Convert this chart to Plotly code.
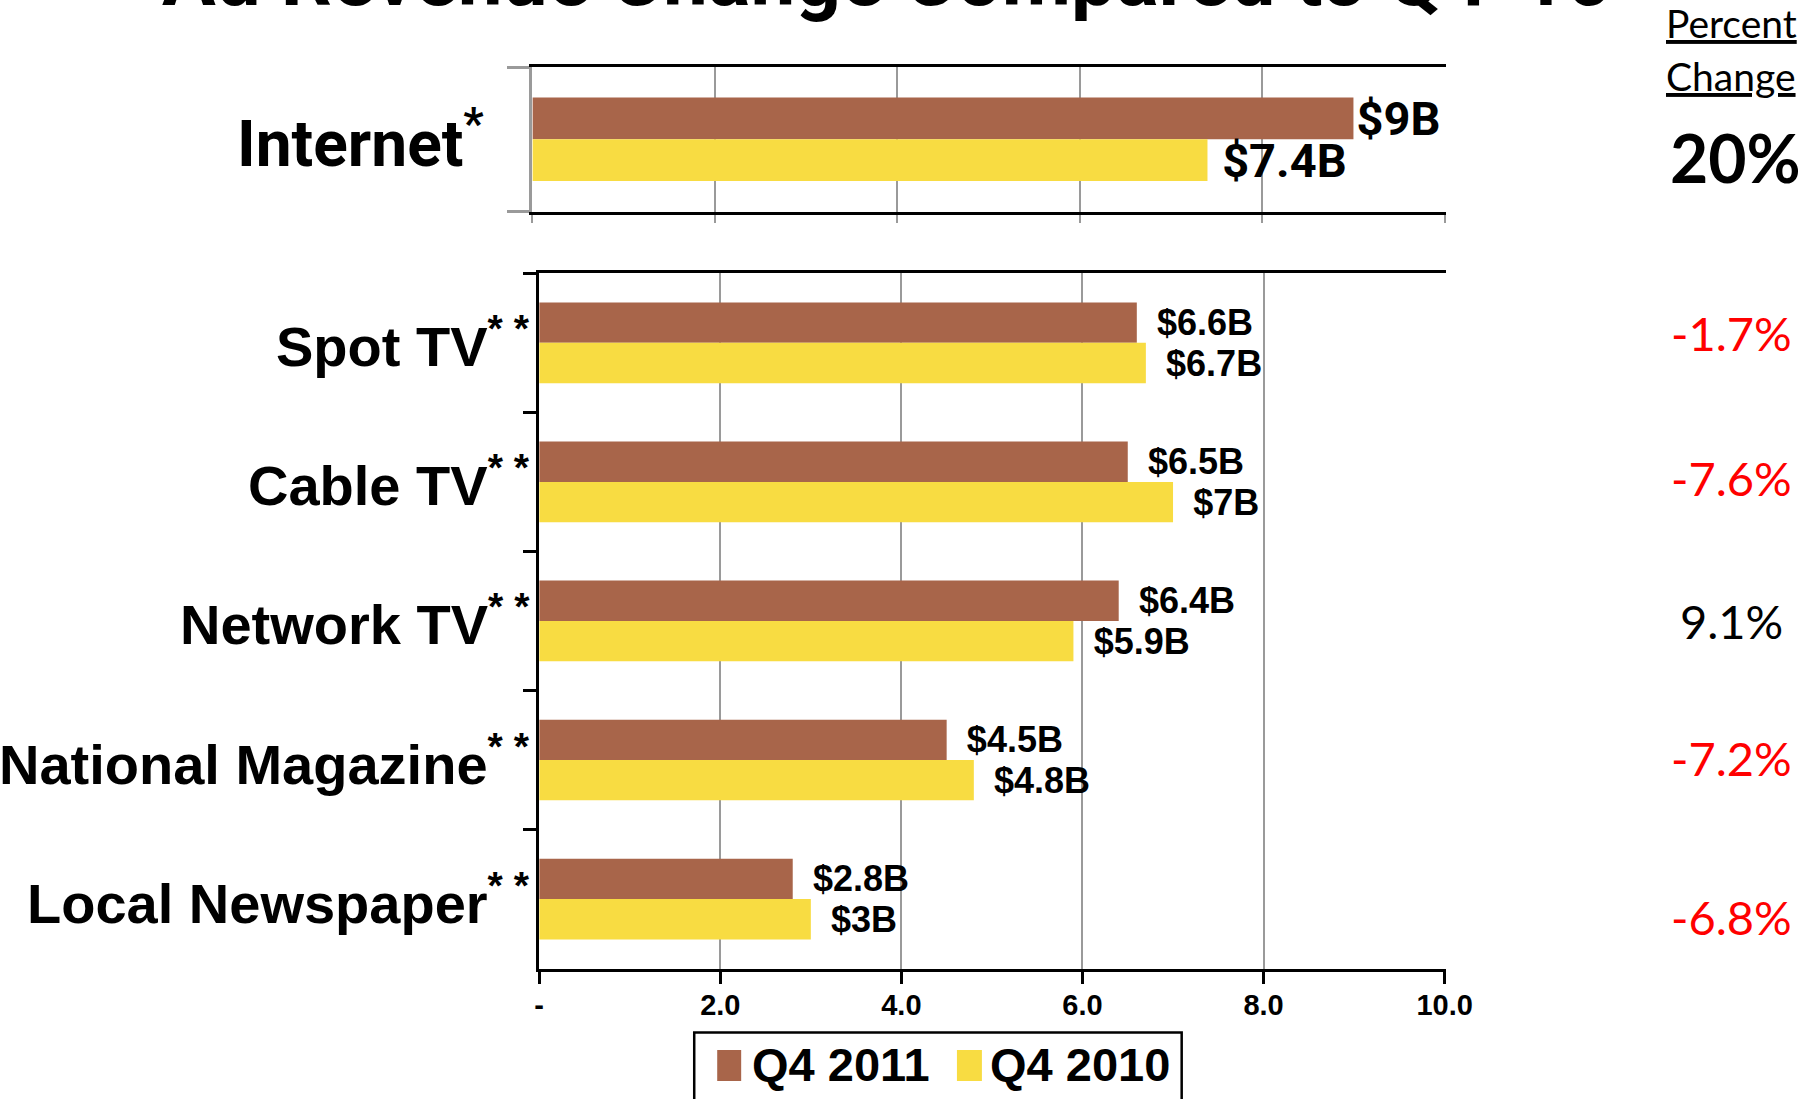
import plotly.graph_objects as go

# ---------------- data ----------------
categories_top = ["Internet"]
q4_2011_top = [9.0]
q4_2010_top = [7.4]

categories = ["Spot TV", "Cable TV", "Network TV", "National Magazine", "Local Newspaper"]
q4_2011 = [6.6, 6.5, 6.4, 4.5, 2.8]
q4_2010 = [6.7, 7.0, 5.9, 4.8, 3.0]

pct_top = "20%"
pct_labels = ["-1.7%", "-7.6%", "9.1%", "-7.2%", "-6.8%"]

x_tickvals = [0, 2, 4, 6, 8, 10]
x_ticktext = ["-", "2.0", "4.0", "6.0", "8.0", "10.0"]

series_names = ["Q4 2011", "Q4 2010"]
title_text = "Ad Revenue Change Compared to Q4 '10"

# ---------------- style ----------------
W, H = 1813, 1099
EFF_W, X_OFF = 1783, 4   # effective drawing width observed in the viewer
BROWN = "#A8654A"
YELLOW = "#F8DC42"
GRID = "#9a9a9a"
ARIAL = "Liberation Sans, Arial, sans-serif"
COND = "Roboto, Liberation Sans, sans-serif"
GEO = "Lato, Open Sans, sans-serif"
NBSP = "\u00a0"
THIN = "\u2009"


def px_x(p):
    return (p - X_OFF) / EFF_W


def px_y(p):
    return 1 - p / H


def money(v):
    return f"${v:g}B"


fig = go.Figure()

# top panel (Internet)
fig.add_trace(go.Bar(
    y=categories_top, x=q4_2011_top, orientation="h", name=series_names[0],
    marker=dict(color=BROWN, line=dict(width=0)),
    text=[money(v) for v in q4_2011_top], textposition="outside",
    textfont=dict(family=COND, size=47, color="black", weight="bold"),
    cliponaxis=False, constraintext="none", showlegend=False,
    xaxis="x", yaxis="y", hoverinfo="skip"))
fig.add_trace(go.Bar(
    y=categories_top, x=q4_2010_top, orientation="h", name=series_names[1],
    marker=dict(color=YELLOW, line=dict(width=0)),
    text=[NBSP + money(v) for v in q4_2010_top], textposition="outside",
    textfont=dict(family=COND, size=47, color="black", weight="bold"),
    cliponaxis=False, constraintext="none", showlegend=False,
    xaxis="x", yaxis="y", hoverinfo="skip"))

# bottom panel
fig.add_trace(go.Bar(
    y=categories, x=q4_2011, orientation="h", name=series_names[0],
    marker=dict(color=BROWN, line=dict(width=0)),
    text=[NBSP + THIN + money(v) for v in q4_2011], textposition="outside",
    textfont=dict(family=ARIAL, size=36, color="black", weight="bold"),
    cliponaxis=False, constraintext="none", showlegend=False,
    xaxis="x2", yaxis="y2", hoverinfo="skip"))
fig.add_trace(go.Bar(
    y=categories, x=q4_2010, orientation="h", name=series_names[1],
    marker=dict(color=YELLOW, line=dict(width=0)),
    text=[NBSP + THIN + money(v) for v in q4_2010], textposition="outside",
    textfont=dict(family=ARIAL, size=36, color="black", weight="bold"),
    cliponaxis=False, constraintext="none", showlegend=False,
    xaxis="x2", yaxis="y2", hoverinfo="skip"))

annotations = []
# title (cropped at top like the reference)
annotations.append(dict(
    text=title_text, xref="paper", yref="paper", x=px_x(887), y=px_y(27),
    xanchor="center", yanchor="bottom", showarrow=False,
    font=dict(family=COND, size=80, color="black", weight="bold")))

# category labels
annotations.append(dict(
    text=categories_top[0] + "<sup>*</sup>", xref="paper", yref="y",
    x=px_x(486), y=categories_top[0], xanchor="right", yanchor="middle",
    showarrow=False, font=dict(family=COND, size=64, color="black", weight="bold")))
for c in categories:
    annotations.append(dict(
        text=c + "<sup>* *</sup>", xref="paper", yref="y2",
        x=px_x(532), y=c, xanchor="right", yanchor="middle", showarrow=False,
        font=dict(family=ARIAL, size=56, color="black", weight="bold")))

# percent change column
annotations.append(dict(
    text="<u>Percent</u>", xref="paper", yref="paper", x=px_x(1732), y=px_y(23),
    xanchor="center", yanchor="middle", showarrow=False,
    font=dict(family=GEO, size=39, color="black")))
annotations.append(dict(
    text="<u>Change</u>", xref="paper", yref="paper", x=px_x(1732), y=px_y(76),
    xanchor="center", yanchor="middle", showarrow=False,
    font=dict(family=GEO, size=39, color="black")))
annotations.append(dict(
    text=pct_top, xref="paper", yref="y", x=px_x(1736), y=categories_top[0],
    yshift=-18, xanchor="center", yanchor="middle", showarrow=False,
    font=dict(family=GEO, size=66, color="black", weight="bold")))
pct_shift = [10, 4, 0, 2, -18]
for c, lab, s in zip(categories, pct_labels, pct_shift):
    annotations.append(dict(
        text=lab, xref="paper", yref="y2", x=px_x(1732), y=c, yshift=s,
        xanchor="center", yanchor="middle", showarrow=False,
        font=dict(family=GEO, size=47, color="red" if lab.startswith("-") else "black")))

# manual legend
shapes = [
    dict(type="rect", xref="paper", yref="paper", x0=px_x(694), x1=px_x(1182),
         y0=px_y(1115), y1=px_y(1032.5), line=dict(color="black", width=2.5),
         fillcolor="white", layer="below"),
    dict(type="rect", xref="paper", yref="paper", x0=px_x(717), x1=px_x(741),
         y0=px_y(1081), y1=px_y(1050), line=dict(width=0), fillcolor=BROWN),
    dict(type="rect", xref="paper", yref="paper", x0=px_x(957), x1=px_x(982),
         y0=px_y(1081), y1=px_y(1050), line=dict(width=0), fillcolor=YELLOW),
]
annotations.append(dict(
    text=series_names[0], xref="paper", yref="paper", x=px_x(750), y=px_y(1064),
    xanchor="left", yanchor="middle", showarrow=False,
    font=dict(family=ARIAL, size=47, color="black", weight="bold")))
annotations.append(dict(
    text=series_names[1], xref="paper", yref="paper", x=px_x(988), y=px_y(1064),
    xanchor="left", yanchor="middle", showarrow=False,
    font=dict(family=ARIAL, size=47, color="black", weight="bold")))

fig.update_layout(
    width=W, height=H, autosize=False,
    margin=dict(l=0, r=0, t=0, b=0),
    paper_bgcolor="white", plot_bgcolor="white",
    barmode="group", bargap=0.42, bargroupgap=0,
    showlegend=False,
    annotations=annotations, shapes=shapes,
    xaxis=dict(domain=[px_x(532), px_x(1446.2)], range=[0, 10.01], anchor="y",
               tickvals=x_tickvals, showticklabels=False,
               showgrid=True, gridcolor=GRID, gridwidth=2, zeroline=False,
               showline=True, linecolor="black", linewidth=3, mirror=True,
               ticks="outside", ticklen=8, tickwidth=2, tickcolor=GRID),
    yaxis=dict(domain=[px_y(211.6), px_y(67)], anchor="x", type="category",
               range=[0.503, -0.503], showticklabels=False, showgrid=False,
               zeroline=False, showline=True, linecolor=GRID, linewidth=3,
               ticks="outside", tickson="boundaries", ticklen=22, tickwidth=3,
               tickcolor=GRID),
    xaxis2=dict(domain=[px_x(538.8), px_x(1446.2)], range=[0, 10.01], anchor="y2",
                tickvals=x_tickvals, ticktext=x_ticktext, ticklabelstandoff=-4,
                tickfont=dict(family=ARIAL, size=29, color="black", weight="bold"),
                showgrid=True, gridcolor=GRID, gridwidth=2, zeroline=False,
                showline=True, linecolor="black", linewidth=3, mirror=True,
                ticks="outside", ticklen=12, tickwidth=2.5, tickcolor="black"),
    yaxis2=dict(domain=[px_y(969), px_y(272.9)], anchor="x2", type="category",
                range=[4.503, -0.503], showticklabels=False, showgrid=False,
                zeroline=False, showline=True, linecolor="black", linewidth=3,
                ticks="outside", tickson="boundaries", ticklen=13, tickwidth=3,
                tickcolor="black"),
)

fig.write_html("out.html")
